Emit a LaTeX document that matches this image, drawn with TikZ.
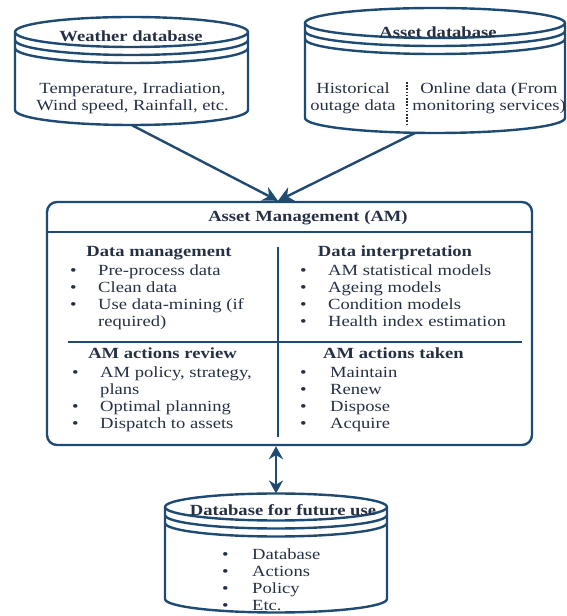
\documentclass[tikz,border=0pt]{standalone}
\usepackage{fontspec}
\setmainfont[FakeStretch=1.2]{Liberation Serif}
\usetikzlibrary{arrows.meta}
\definecolor{amblue}{RGB}{31,75,115}
\definecolor{amtext}{RGB}{38,48,68}
\newcommand{\bl}{\textbullet}
% database cylinder: name, cx, y of top centre, rx, ry, y of bottom centre
\newcommand{\dbcyl}[6]{%
  \draw[dbline] (#2,#3) ellipse[x radius=#4pt,y radius=#5pt];
  \draw[dbline] ({#2-#4},#3) -- ({#2-#4},#6) arc[start angle=180,end angle=360,x radius=#4pt,y radius=#5pt] -- ({#2+#4},#3);
  \draw[dbline] ({#2-#4},{#3-8}) arc[start angle=180,end angle=360,x radius=#4pt,y radius=#5pt];
  \draw[dbline] ({#2-#4},{#3-16}) arc[start angle=180,end angle=360,x radius=#4pt,y radius=#5pt];
  \coordinate (#1-n) at (#2,{#3+#5});
  \coordinate (#1-s) at (#2,{#6-#5});
}
\begin{document}
\fontsize{15.5pt}{17pt}\selectfont
\begin{tikzpicture}[x=1pt,y=1pt,line join=round,
  dbline/.style={draw=amblue,line width=2.4pt},
  hd/.style={font=\bfseries,text=amtext,inner sep=0pt},
  txt/.style={text=amtext,inner sep=0pt,align=center},
  lst/.style={text=amtext,inner sep=0pt,anchor=base west},
  amarrow/.style={draw=amblue,line width=2.4pt,-{Stealth[length=15pt,width=15pt]}},
  ambiarrow/.style={draw=amblue,line width=2.4pt,{Stealth[length=13pt,width=14pt]}-{Stealth[length=13pt,width=14pt]}}]
\useasboundingbox (0,0) rectangle (566,616);

% databases
\dbcyl{wdb}{131.5}{584}{116.5}{15}{506}
\dbcyl{adb}{435}{593}{130}{15}{498}
\dbcyl{fdb}{276}{109}{111}{13.5}{17}

\node[hd] (wtitle) at (131,580) {Weather database};
\node[txt] (wtext) at (132.5,517.5) {Temperature, Irradiation,\\Wind speed, Rainfall, etc.};

\node[hd] (atitle) at (438,584) {Asset database};
\node[txt] (ahist) at (353,517.5) {Historical\\outage data};
\node[txt] (aonline) at (489,517.5) {Online data (From\\monitoring services)};
\draw[draw=amtext,line width=2pt,dash pattern=on 1.6pt off 1.6pt] (407,534) -- (407,492);

% asset management box
\node[draw=amblue,line width=2.4pt,rounded corners=10pt,minimum width=485pt,minimum height=243pt] (am) at (289.5,292.5) {};
\coordinate (amin) at ([xshift=-11.5pt]am.north);
\node[hd] (amtitle) at (308,398) {Asset Management (AM)};
\draw[dbline] (am.north west) ++(0,-31) -- ++(485,0);
\draw[dbline] (278,369) -- (278,179);
\draw[dbline] (68,274) -- (522,274);

\node[hd] (dm) at (159,363) {Data management};
\node[lst] (dmlist) at (70,340) {\begin{tabular}[t]{@{}l@{\hspace{21.5pt}}l@{}}
\bl & Pre-process data\\
\bl & Clean data\\
\bl & Use data-mining (if\\
    & required)
\end{tabular}};

\node[hd] (di) at (395,363) {Data interpretation};
\node[lst] (dilist) at (300,340) {\begin{tabular}[t]{@{}l@{\hspace{21.5pt}}l@{}}
\bl & AM statistical models\\
\bl & Ageing models\\
\bl & Condition models\\
\bl & Health index estimation
\end{tabular}};

\node[hd] (ar) at (162.5,263) {AM actions review};
\node[lst] (arlist) at (72,238) {\begin{tabular}[t]{@{}l@{\hspace{21.5pt}}l@{}}
\bl & AM policy, strategy,\\
    & plans\\
\bl & Optimal planning\\
\bl & Dispatch to assets
\end{tabular}};

\node[hd] (at) at (393.5,263) {AM actions taken};
\node[lst] (atlist) at (300,238) {\begin{tabular}[t]{@{}l@{\hspace{23.5pt}}l@{}}
\bl & Maintain\\
\bl & Renew\\
\bl & Dispose\\
\bl & Acquire
\end{tabular}};

% future database
\node[hd] (ftitle) at (283,106) {Database for future use};
\node[lst] (flist) at (222,56) {\begin{tabular}[t]{@{}l@{\hspace{23.5pt}}l@{}}
\bl & Database\\
\bl & Actions\\
\bl & Policy\\
\bl & Etc.
\end{tabular}};

% connectors
\draw[amarrow] (wdb-s) -- (amin);
\draw[amarrow] ([xshift=-20pt]adb-s) -- (amin);
\draw[ambiarrow] (fdb-n |- am.south) -- (fdb-n);
\end{tikzpicture}
\end{document}
